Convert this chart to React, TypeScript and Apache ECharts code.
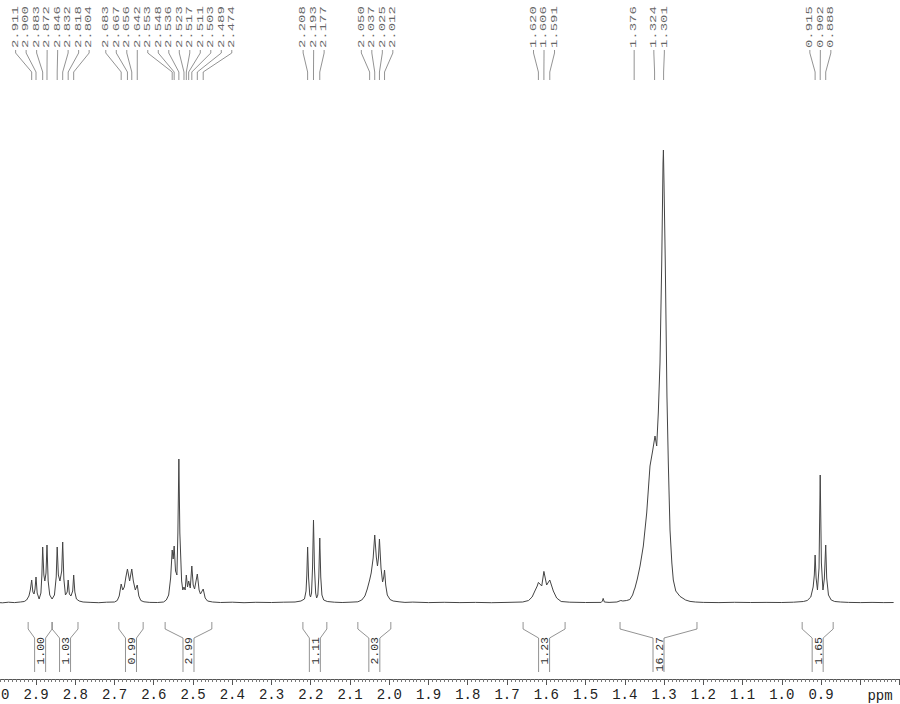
import React, { useEffect, useRef } from 'react';
import * as echarts from 'echarts';

// Traced spectrum: [ppm, intensity above baseline]
const SPECTRUM: [number, number][] = [
  [3.0, 0.5], [2.985, 0.2], [2.97, 0.8], [2.955, 0.4], [2.94, 1.0], [2.93, 1.5], [2.924, 3], [2.918, 7],
  [2.9145, 13], [2.911, 23], [2.908, 11], [2.905, 9], [2.9025, 14], [2.9, 26], [2.897, 10], [2.892, 4],
  [2.8875, 10], [2.885, 28], [2.883, 56], [2.88, 28], [2.8775, 22], [2.8745, 30], [2.872, 58], [2.869, 22],
  [2.865, 8], [2.859, 4], [2.853, 8], [2.8485, 26], [2.846, 56], [2.843, 28], [2.839, 22], [2.8345, 32],
  [2.832, 61], [2.829, 24], [2.825, 8], [2.8205, 11], [2.818, 23], [2.815, 9], [2.811, 7], [2.8065, 12],
  [2.804, 28], [2.801, 11], [2.797, 4], [2.79, 2], [2.78, 1], [2.76, 0.6], [2.74, 0.3], [2.72, 0.8],
  [2.7, 1], [2.693, 2.5], [2.688, 7], [2.683, 19], [2.679, 13], [2.675, 16], [2.671, 26], [2.667, 34],
  [2.6615, 22], [2.656, 34], [2.652, 22], [2.647, 13], [2.642, 18], [2.638, 7], [2.633, 2.5], [2.625, 1.2],
  [2.61, 0.6], [2.59, 0.5], [2.575, 1], [2.568, 3], [2.562, 8], [2.557, 25], [2.553, 53], [2.5505, 44],
  [2.548, 57], [2.5445, 32], [2.541, 28], [2.5385, 70], [2.536, 144], [2.5335, 70], [2.529, 22], [2.526, 13],
  [2.523, 16], [2.52, 13], [2.517, 28], [2.514, 16], [2.511, 22], [2.507, 15], [2.503, 37], [2.4995, 18],
  [2.496, 14], [2.489, 29], [2.4845, 13], [2.481, 9], [2.474, 14], [2.469, 5], [2.463, 2], [2.45, 1],
  [2.43, 0.5], [2.4, 0.8], [2.37, 0.3], [2.34, 0.7], [2.3, 0.5], [2.27, 0.8], [2.24, 1], [2.225, 2],
  [2.216, 4], [2.212, 12], [2.21, 28], [2.208, 56], [2.2055, 25], [2.2025, 8], [2.2005, 6], [2.198, 10],
  [2.1955, 35], [2.193, 83], [2.1905, 35], [2.1875, 10], [2.185, 5], [2.182, 8], [2.1795, 26], [2.177, 65],
  [2.1745, 26], [2.1715, 8], [2.167, 3], [2.158, 1.5], [2.14, 0.8], [2.12, 0.5], [2.1, 0.8], [2.08, 1.2],
  [2.07, 3], [2.062, 7], [2.056, 14], [2.05, 23], [2.046, 30], [2.041, 45], [2.037, 68], [2.033, 46],
  [2.03, 37], [2.0275, 45], [2.025, 64], [2.021, 35], [2.017, 21], [2.014, 26], [2.012, 33], [2.009, 18],
  [2.005, 8], [1.998, 3.5], [1.99, 2], [1.975, 1.2], [1.96, 0.6], [1.94, 0.9], [1.9, 0.4], [1.86, 0.7],
  [1.82, 0.4], [1.78, 0.6], [1.74, 0.3], [1.7, 0.6], [1.66, 1], [1.645, 2.5], [1.636, 6], [1.629, 12],
  [1.623, 17], [1.62, 20.6], [1.6115, 17], [1.606, 31.6], [1.599, 18], [1.591, 23], [1.582, 12], [1.5735, 5],
  [1.562, 1.5], [1.54, 0.8], [1.5, 0.5], [1.46, 0.6], [1.457, 2], [1.455, 4.6], [1.452, 1], [1.44, 0.6],
  [1.42, 1], [1.41, 2.5], [1.405, 2], [1.395, 2.5], [1.387, 3.5], [1.38, 8], [1.376, 13], [1.374, 15],
  [1.368, 24], [1.361, 37], [1.3527, 57], [1.3441, 90], [1.3357, 137], [1.329, 152], [1.3229, 167], [1.3186, 157],
  [1.3145, 190], [1.3102, 240], [1.3058, 340], [1.3025, 440], [1.3015, 453], [1.3, 420], [1.2967, 340], [1.2925, 207],
  [1.289, 140], [1.2847, 73], [1.28, 40], [1.2763, 23], [1.27, 12], [1.2592, 6.6], [1.245, 3], [1.2337, 1.6],
  [1.22, 1], [1.2, 0.6], [1.16, 0.4], [1.12, 0.7], [1.08, 0.5], [1.04, 0.6], [1.0, 0.5], [0.97, 0.8],
  [0.945, 1.5], [0.935, 2.5], [0.926, 6], [0.92, 16], [0.917, 28], [0.915, 48], [0.9125, 25], [0.909, 13],
  [0.905, 35], [0.902, 128], [0.899, 40], [0.895, 13], [0.8915, 24], [0.888, 58], [0.8855, 25], [0.881, 8],
  [0.874, 3], [0.865, 1.5], [0.85, 1], [0.83, 0.6], [0.8, 0.4], [0.77, 0.6], [0.74, 0.4], [0.715, 0.5],
];

const PEAK_PPM = [
  2.911, 2.9, 2.883, 2.872, 2.846, 2.832, 2.818, 2.804,
  2.683, 2.667, 2.656, 2.642, 2.553, 2.548, 2.536, 2.523, 2.517, 2.511, 2.503, 2.489, 2.474,
  2.208, 2.193, 2.177,
  2.05, 2.037, 2.025, 2.012,
  1.62, 1.606, 1.591,
  1.376, 1.324, 1.301,
  0.915, 0.902, 0.888,
];

const INT_START = [2.92, 2.859, 2.689, 2.571, 2.22, 2.08, 1.659, 1.412, 0.948];
const INT_END = [2.859, 2.793, 2.627, 2.452, 2.159, 1.996, 1.552, 1.216, 0.869];
const INT_VALUES = ['1.00', '1.03', '0.99', '2.99', '1.11', '2.03', '1.23', '16.27', '1.65'];

const AXIS_MIN = 0.7;
const AXIS_MAX = 3.0;
const AXIS_STEP = 0.1;
const AXIS_UNIT = 'ppm';

const FONT = '"Liberation Mono", "DejaVu Sans Mono", monospace';

export default function App() {
  const ref = useRef<HTMLDivElement>(null);

  useEffect(() => {
    const el = ref.current;
    if (!el) return;
    const chart = echarts.init(el, null, { renderer: 'svg' });
    chart.setOption({
      animation: false,
      backgroundColor: '#ffffff',
      grid: { left: -3.25, right: 0.5, top: 103, bottom: 91, outerBoundsMode: 'none' },
      xAxis: {
        type: 'value',
        min: AXIS_MIN,
        max: AXIS_MAX,
        interval: AXIS_STEP,
        inverse: true,
        offset: 66,
        axisLine: { show: true, onZero: false, lineStyle: { color: '#555', width: 1 } },
        axisTick: { show: true, length: 6, lineStyle: { color: '#555' } },
        minorTick: { show: true, splitNumber: 10, length: 3, lineStyle: { color: '#777' } },
        splitLine: { show: false },
        minorSplitLine: { show: false },
        axisLabel: {
          fontFamily: FONT,
          fontSize: 14,
          color: '#222',
          margin: 9,
          showMinLabel: true,
          showMaxLabel: true,
          hideOverlap: false,
          formatter: (v: number) => (v < 0.85 ? '' : v.toFixed(1)),
        },
      },
      yAxis: { type: 'value', min: -10, max: 500, show: false },
      series: [
        {
          type: 'line',
          data: SPECTRUM,
          showSymbol: false,
          symbol: 'none',
          silent: true,
          lineStyle: { color: '#444', width: 1 },
        },
      ],
    });

    const toX = (v: number) => chart.convertToPixel({ xAxisIndex: 0 }, v) as number;

    // peak label layout: spread labels that would overlap, centred on their peaks
    const peakX = PEAK_PPM.map(toX);
    const SP = 10.5;
    let clusters = peakX.map((x, i) => ({ idx: [i], center: x }));
    let merged = true;
    while (merged) {
      merged = false;
      clusters.sort((a, b) => a.center - b.center);
      for (let i = 0; i < clusters.length - 1; i++) {
        const a = clusters[i];
        const b = clusters[i + 1];
        const aR = a.center + ((a.idx.length - 1) / 2) * SP;
        const bL = b.center - ((b.idx.length - 1) / 2) * SP;
        if (bL - aR < SP) {
          const idx = a.idx.concat(b.idx);
          const center = idx.reduce((s, k) => s + peakX[k], 0) / idx.length;
          clusters.splice(i, 2, { idx, center });
          merged = true;
          break;
        }
      }
    }
    const labelX: number[] = new Array(peakX.length).fill(0);
    clusters.forEach((c) => {
      const sorted = c.idx.slice().sort((p, q) => peakX[p] - peakX[q]);
      sorted.forEach((k, j) => {
        labelX[k] = c.center + (j - (sorted.length - 1) / 2) * SP;
      });
    });

    const elements: any[] = [];
    PEAK_PPM.forEach((p, i) => {
      const lx = labelX[i];
      const px = peakX[i];
      elements.push({
        type: 'text',
        x: lx,
        y: 48,
        rotation: Math.PI / 2,
        scaleX: 1.55,
        silent: true,
        style: { text: p.toFixed(3), font: `9px ${FONT}`, fill: '#666', align: 'left', verticalAlign: 'middle' },
      });
      elements.push({
        type: 'polyline',
        silent: true,
        shape: { points: [[lx, 50], [lx, 53], [px, 72], [px, 80]] },
        style: { stroke: '#777', fill: null, lineWidth: 0.8 },
      });
    });

    INT_START.forEach((s, i) => {
      const x0 = toX(s);
      const x1 = toX(INT_END[i]);
      const mid = (x0 + x1) / 2;
      const cl = mid - 5.5;
      const cr = mid + 5.5;
      elements.push({
        type: 'polyline',
        silent: true,
        shape: { points: [[x0, 622], [x0, 629], [cl, 638], [cl, 672]] },
        style: { stroke: '#777', fill: null, lineWidth: 0.8 },
      });
      elements.push({
        type: 'polyline',
        silent: true,
        shape: { points: [[x1, 622], [x1, 629], [cr, 638], [cr, 672]] },
        style: { stroke: '#777', fill: null, lineWidth: 0.8 },
      });
      elements.push({
        type: 'text',
        x: mid + 0.5,
        y: 637,
        rotation: Math.PI / 2,
        silent: true,
        style: { text: INT_VALUES[i], font: `11.5px ${FONT}`, fill: '#333', align: 'right', verticalAlign: 'middle' },
      });
    });

    elements.push({
      type: 'text',
      x: 880,
      y: 696,
      silent: true,
      style: { text: AXIS_UNIT, font: `14px ${FONT}`, fill: '#222', align: 'center', verticalAlign: 'middle' },
    });

    chart.setOption({ graphic: { elements } });

    return () => chart.dispose();
  }, []);

  return <div ref={ref} style={{ position: 'fixed', left: 0, top: 0, width: 900, height: 704 }} />;
}
